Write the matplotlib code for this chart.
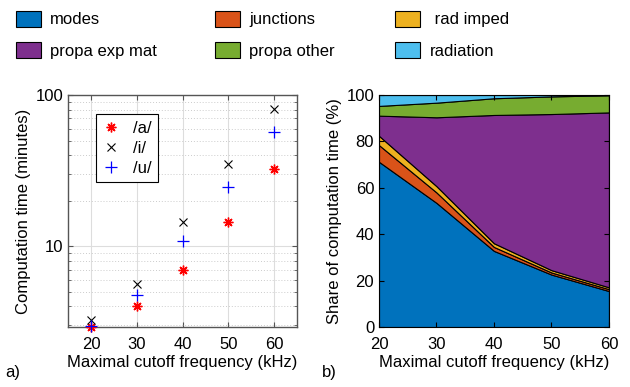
import matplotlib.pyplot as plt
import numpy as np
from matplotlib.patches import Patch

plt.rcParams["font.family"] = ["Liberation Sans", "DejaVu Sans"]

freqs = [20, 30, 40, 50, 60]

# computation time (minutes) per vowel
time_a = [2.9, 4.0, 6.95, 14.5, 32.4]
time_i = [3.25, 5.65, 14.5, 34.9, 81.0]
time_u = [2.95, 4.75, 10.8, 24.7, 57.3]

# share of computation time (%)
share_labels = ["modes", "junctions", " rad imped", "propa exp mat", "propa other", "radiation"]
share_modes = [71.2, 53.5, 32.8, 22.6, 15.5]
share_junctions = [7.2, 4.5, 1.7, 0.9, 0.8]
share_rad_imped = [4.0, 2.7, 1.6, 1.0, 0.8]
share_propa_exp = [8.7, 29.7, 55.3, 67.3, 75.4]
share_propa_other = [4.2, 6.3, 7.2, 7.6, 7.4]
share_radiation = [4.7, 3.3, 1.4, 0.6, 0.1]

colors = ["#0072BD", "#D95319", "#EDB120", "#7E2F8E", "#77AC30", "#4DBEEE"]
fs = 12

fig = plt.figure(figsize=(6.3, 3.87), dpi=100)
ax1 = fig.add_axes([0.108, 0.155, 0.3635, 0.5995])
ax2 = fig.add_axes([0.6016, 0.155, 0.365, 0.5995])

# --- a) computation time ---
asterisk = (8, 2, 0)
ax1.plot(freqs, time_a, ls="none", marker=asterisk, ms=7, mew=1.0, color="red", label="/a/", clip_on=False, zorder=3)
ax1.plot(freqs, time_i, ls="none", marker="x", ms=6, mew=0.8, color="black", label="/i/", clip_on=False, zorder=3)
ax1.plot(freqs, time_u, ls="none", marker="+", ms=8, mew=0.9, color="blue", label="/u/", clip_on=False, zorder=3)
ax1.set_yscale("log")
ax1.set_xlim(15, 65)
ax1.set_ylim(2.92, 100)
ax1.set_xticks(freqs)
ax1.set_yticks([10, 100])
ax1.set_yticklabels(["10", "100"])
ax1.yaxis.set_minor_formatter(plt.NullFormatter())
ax1.grid(True, which="major", color="#dddddd", lw=0.8)
ax1.grid(True, which="minor", axis="y", color="#cccccc", lw=0.7, ls=(0, (1, 2)))
ax1.set_axisbelow(True)
ax1.tick_params(which="both", direction="in", top=True, right=True, labelsize=fs, color="#555555")
ax1.tick_params(axis="x", pad=7)
ax1.set_xlabel("Maximal cutoff frequency (kHz)", fontsize=fs, labelpad=2)
ax1.set_ylabel("Computation time (minutes)", fontsize=fs, labelpad=3)
for s in ax1.spines.values():
    s.set_color("#555555")
    s.set_linewidth(1.0)
leg1 = ax1.legend(loc="upper left", bbox_to_anchor=(0.122, 0.918), fontsize=fs, fancybox=False,
                  edgecolor="black", framealpha=1, handlelength=1.0, borderpad=0.4,
                  labelspacing=0.3, handletextpad=0.8, borderaxespad=0)
leg1.get_frame().set_linewidth(0.8)

# --- b) share of computation time ---
shares = [share_modes, share_junctions, share_rad_imped, share_propa_exp, share_propa_other, share_radiation]
ax2.stackplot(freqs, shares, colors=colors, edgecolor="black", linewidth=0.8)
ax2.set_xlim(20, 60)
ax2.set_ylim(0, 100)
ax2.set_xticks(freqs)
ax2.set_yticks(np.arange(0, 101, 20))
ax2.tick_params(direction="in", top=True, right=True, labelsize=fs)
ax2.tick_params(axis="x", pad=7)
ax2.set_xlabel("Maximal cutoff frequency (kHz)", fontsize=fs, labelpad=2)
ax2.set_ylabel("Share of computation time (%)", fontsize=fs, labelpad=3)

# top legend, one column per group
handles = [Patch(facecolor=c, edgecolor="black", linewidth=0.8) for c in colors]
col_x = [0.015, 0.331, 0.617]
for k in range(3):
    idx = [k, k + 3]
    fig.legend([handles[i] for i in idx], [share_labels[i] for i in idx], ncol=1,
               loc="upper left", bbox_to_anchor=(col_x[k], 0.99), frameon=False, fontsize=fs,
               handlelength=1.5, handleheight=1.15, labelspacing=0.85, handletextpad=0.55,
               borderaxespad=0.2, borderpad=0.2)

fig.text(0.008, 0.025, "a)", fontsize=fs)
fig.text(0.511, 0.025, "b)", fontsize=fs)

fig.savefig("out.png", dpi=100)
plt.close(fig)
